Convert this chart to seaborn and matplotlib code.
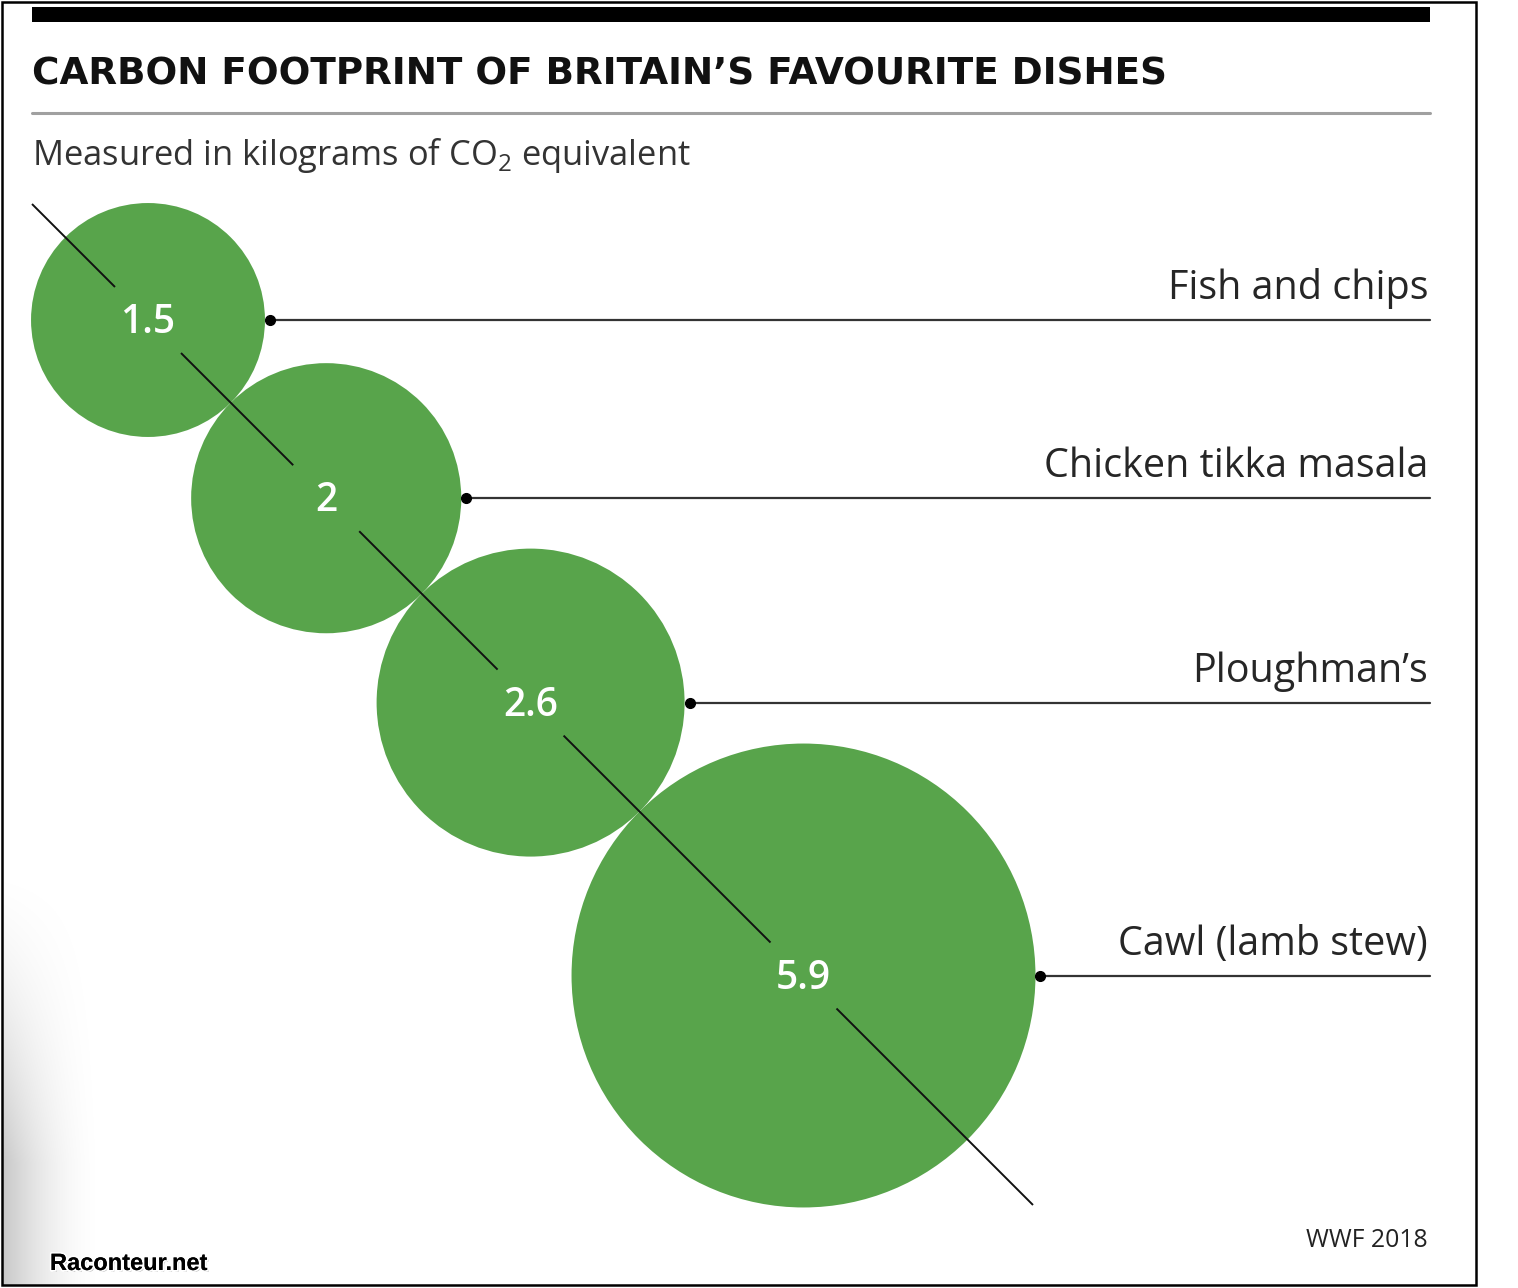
import numpy as np
import pandas as pd
import seaborn as sns
import matplotlib
matplotlib.use('Agg')
import matplotlib.pyplot as plt
import matplotlib.patheffects as pe
from matplotlib.patches import Rectangle

# data
dishes = ["Fish and chips", "Chicken tikka masala", "Ploughman\u2019s", "Cawl (lamb stew)"]
co2_kg = [1.5, 2.0, 2.6, 5.9]
value_labels = ["1.5", "2", "2.6", "5.9"]

W, H, DPI = 1518, 1288, 100
GREEN = "#58a44b"

sns.set_theme(style="white")
plt.rcParams['font.family'] = ['Open Sans', 'DejaVu Sans']
plt.rcParams['mathtext.fontset'] = 'custom'
plt.rcParams['mathtext.rm'] = 'Open Sans'

fig = plt.figure(figsize=(W / DPI, H / DPI), dpi=DPI)
ax = fig.add_axes([0, 0, 1, 1])


def fit_width(txt, width):
    # scale a text so that it spans the given pixel width
    fig.canvas.draw()
    bb = txt.get_window_extent()
    txt.set_fontsize(txt.get_fontsize() * width / bb.width)


# circle area proportional to value; circles touch along a 45 degree line
k = 95.5  # px radius per sqrt(kg)
radii = k * np.sqrt(np.array(co2_kg))
cx = [148.0]
for i in range(1, len(radii)):
    cx.append(cx[-1] + (radii[i - 1] + radii[i]) / np.sqrt(2))
cx = np.array(cx)
cy = cx + 172

df = pd.DataFrame({"dish": dishes, "kg": co2_kg, "x": cx, "y": cy})

# scatter sizes are areas in pt^2
px2pt = 72 / DPI
smax = (2 * k * px2pt) ** 2 * max(co2_kg)
sns.scatterplot(data=df, x="x", y="y", size="kg", sizes=(0, smax),
                size_norm=(0, max(co2_kg)), color=GREEN, linewidth=0,
                edgecolor="none", legend=False, ax=ax, zorder=2)
ax.set_xlim(0, W)
ax.set_ylim(H, 0)
ax.axis('off')

# diagonal with gaps around the numbers
x0, x1 = 32, 1033
gap = 33
pts = [x0]
for x in cx:
    pts += [x - gap, x + gap]
pts.append(x1)
for a, b in zip(pts[0::2], pts[1::2]):
    ax.plot([a, b], [a + 172, b + 172], color="#111111", lw=1.4, zorder=3,
            solid_capstyle='butt')

for x, y, lab in zip(cx, cy, value_labels):
    ax.text(x, y + 3, lab, color="white", fontsize=28, fontweight='semibold',
            ha='center', va='center', zorder=4)

# leader lines and dish names
name_txts = []
for x, y, r, name in zip(cx, cy, radii, dishes):
    xd = x + r + 5
    ax.plot([xd, 1430], [y, y], color="#333333", lw=1.6, zorder=3)
    ax.plot([xd], [y], 'o', color="black", ms=7, zorder=4)
    name_txts.append(ax.text(1428, y - 21, name, fontsize=24, color="#262626",
                             ha='right', va='baseline'))
fit_width(name_txts[1], 385)
for t in name_txts:
    t.set_fontsize(name_txts[1].get_fontsize())

# header
ax.add_patch(Rectangle((32, 7), 1398, 15, color="black", lw=0))
ax.plot([32, 1430], [113, 113], color="#a0a0a0", lw=2.2)
title = ax.text(32, 84, "CARBON FOOTPRINT OF BRITAIN\u2019S FAVOURITE DISHES",
                fontsize=30, fontweight='bold', color="#111111",
                family=['DejaVu Sans'], ha='left', va='baseline')
fit_width(title, 1138)

sub = ax.text(32, 165, r"Measured in kilograms of CO$_2$ equivalent", fontsize=22,
              color="#333333", ha='left', va='baseline')
fit_width(sub, 658)

# footer
wwf = ax.text(1428, 1247, "WWF 2018", fontsize=18, color="#222222",
              ha='right', va='baseline')
fit_width(wwf, 122)
ax.text(50, 1270, "Raconteur.net", fontsize=17, fontweight='bold',
        family=['Liberation Sans'], color="black", ha='left', va='baseline',
        path_effects=[pe.withSimplePatchShadow(offset=(1.2, -1.2),
                                               shadow_rgbFace='#888888', alpha=0.6),
                      pe.withStroke(linewidth=2.5, foreground='white'),
                      pe.Normal()])

# faint shading at the lower left edge
gx = np.linspace(0, 1, 120)
gy = np.linspace(0, 1, 200)
GX, GY = np.meshgrid(gx, gy)
alpha = (1 - GX) ** 2 * np.clip(GY * 1.4, 0, 1) ** 1.5 * 0.22
img = np.zeros((200, 120, 4))
img[..., 3] = alpha
ax.imshow(img, extent=(3, 110, 1285, 860), aspect='auto', zorder=0)

# outer frame
ax.add_patch(Rectangle((2, 2), 1474, 1283, fill=False, ec="black", lw=1.8))
ax.set_xlim(0, W)
ax.set_ylim(H, 0)

fig.savefig("out.png", dpi=DPI, facecolor="white")
